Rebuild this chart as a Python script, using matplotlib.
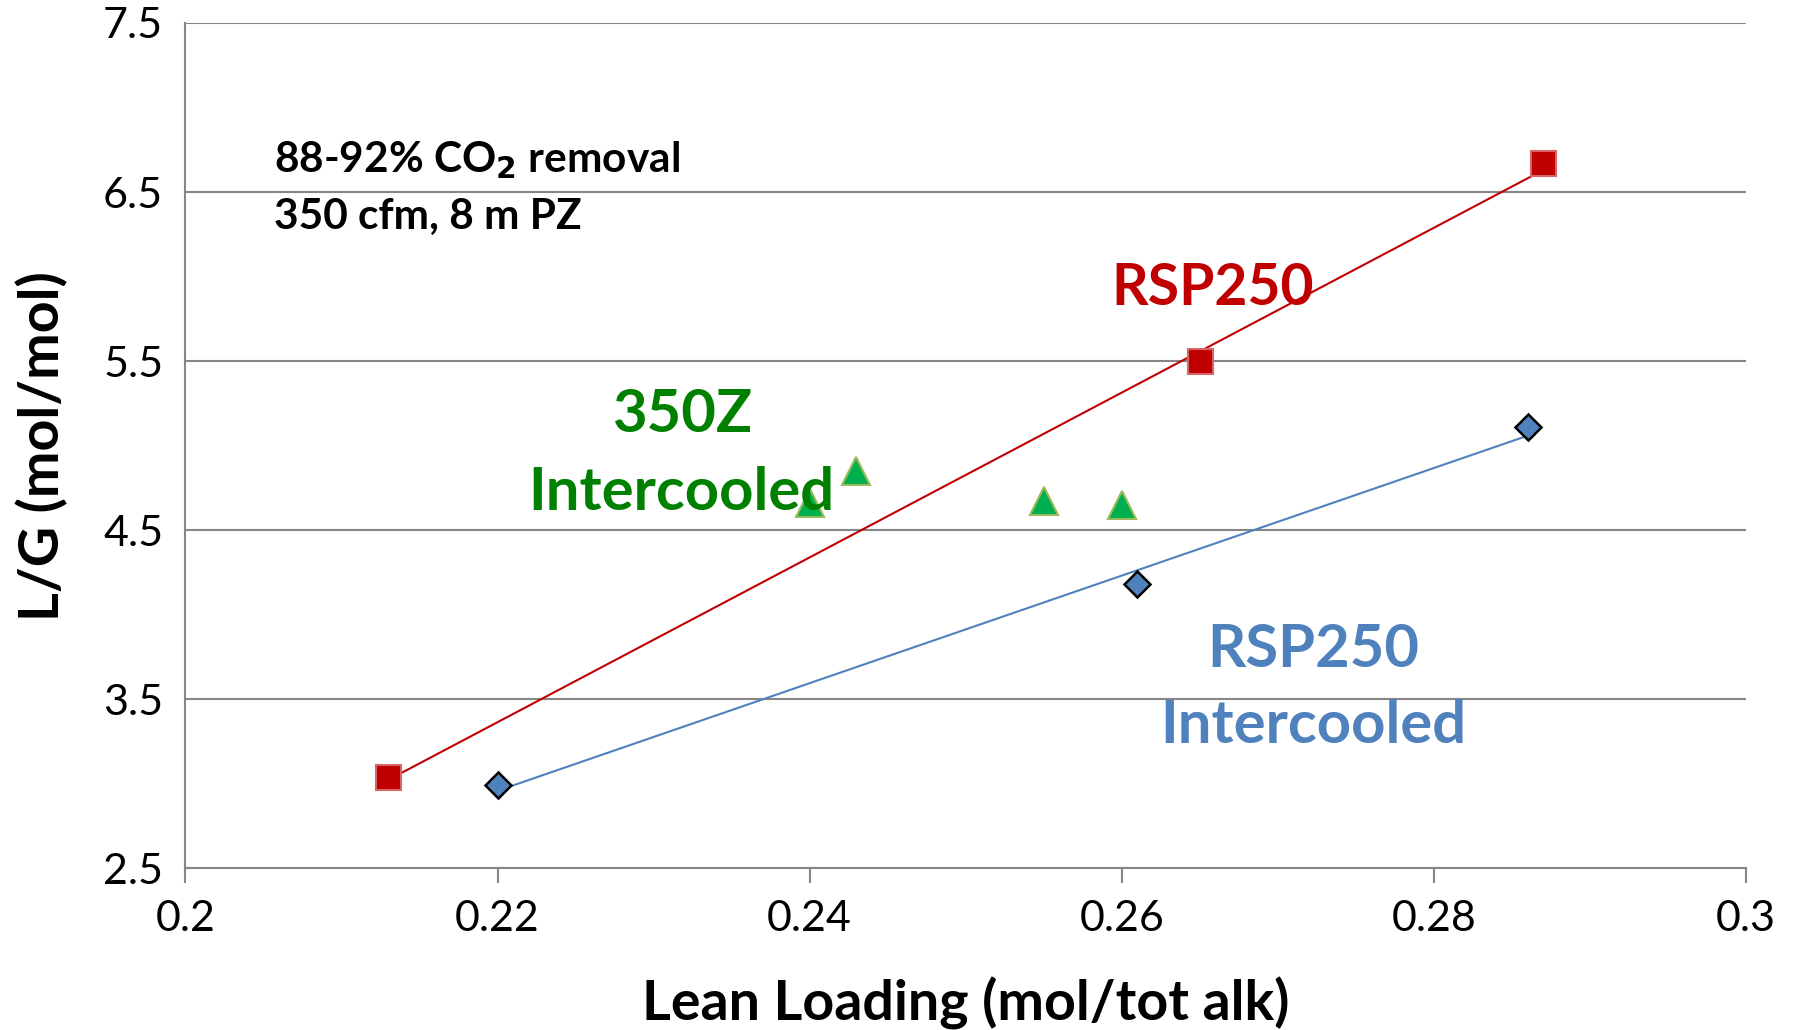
import numpy as np
import matplotlib.pyplot as plt

plt.rcParams['font.family'] = ['Lato', 'DejaVu Sans']

# データ
rsp_x = [0.213, 0.265, 0.287]
rsp_y = [3.04, 5.50, 6.67]

rsp_ic_x = [0.220, 0.261, 0.286]
rsp_ic_y = [2.99, 4.18, 5.11]

z350_x = [0.240, 0.243, 0.255, 0.260]
z350_y = [4.66, 4.85, 4.67, 4.65]

x_ticks = [0.2, 0.22, 0.24, 0.26, 0.28, 0.3]
x_tick_labels = ['0.2', '0.22', '0.24', '0.26', '0.28', '0.3']
y_ticks = [2.5, 3.5, 4.5, 5.5, 6.5, 7.5]
y_tick_labels = ['2.5', '3.5', '4.5', '5.5', '6.5', '7.5']

RED = '#C00000'
BLUE = '#4F81BD'
GREEN = '#00B050'
GRID = '#868686'

fig = plt.figure(figsize=(17.95, 10.30), dpi=100)
fig.set_facecolor('white')
ax = fig.add_axes([0.1033, 0.157, 0.8694, 0.8207])

# 線形トレンドライン
for xs, ys, c in [(rsp_x, rsp_y, RED), (rsp_ic_x, rsp_ic_y, BLUE)]:
    k, b = np.polyfit(xs, ys, 1)
    xx = np.array([min(xs), max(xs)])
    ax.plot(xx, k * xx + b, color=c, lw=1.5, zorder=3)

ax.plot(rsp_x, rsp_y, ls='none', marker='s', ms=18, mfc=RED,
        mec='#D86666', mew=1.5, zorder=4)
ax.plot(rsp_ic_x, rsp_ic_y, ls='none', marker='D', ms=13.5, mfc=BLUE,
        mec='black', mew=1.8, zorder=4)
ax.plot(z350_x, z350_y, ls='none', marker='^', ms=20, mfc=GREEN,
        mec='#9BBB59', mew=1.5, zorder=4)

ax.set_xlim(0.2, 0.3)
ax.set_ylim(2.5, 7.5)
ax.set_xticks(x_ticks)
ax.set_xticklabels(x_tick_labels)
ax.set_yticks(y_ticks)
ax.set_yticklabels(y_tick_labels)
ax.tick_params(axis='x', length=11, width=1.5, color=GRID, labelsize=31, pad=12)
ax.tick_params(axis='y', length=0, labelsize=31, pad=16)

ax.grid(axis='y', color=GRID, lw=1.5)
ax.set_axisbelow(True)
for s in ['top', 'right']:
    ax.spines[s].set_visible(False)
for s in ['left', 'bottom']:
    ax.spines[s].set_color(GRID)
    ax.spines[s].set_linewidth(1.5)

ax.set_xlabel('Lean Loading (mol/tot alk)', fontsize=40, fontweight='bold', labelpad=28)
ax.set_ylabel('L/G (mol/mol)', fontsize=40, fontweight='bold', labelpad=25)

# 注釈
ax.text(0.2057, 6.69, '88-92% CO$_\\mathbf{2}$ removal', fontsize=30.5, fontweight='bold',
        ha='left', va='center', zorder=5)
ax.text(0.2057, 6.35, '350 cfm, 8 m PZ', fontsize=30.5, fontweight='bold',
        ha='left', va='center', zorder=5)
ax.text(0.2658, 5.93, 'RSP250', fontsize=41, fontweight='bold', color=RED,
        ha='center', va='center', zorder=5)
ax.text(0.2318, 5.18, '350Z', fontsize=43, fontweight='bold', color='#008000',
        ha='center', va='center', zorder=5)
ax.text(0.2318, 4.72, 'Intercooled', fontsize=43, fontweight='bold', color='#008000',
        ha='center', va='center', zorder=5)
ax.text(0.2723, 3.79, 'RSP250', fontsize=43, fontweight='bold', color=BLUE,
        ha='center', va='center', zorder=5)
ax.text(0.2723, 3.34, 'Intercooled', fontsize=43, fontweight='bold', color=BLUE,
        ha='center', va='center', zorder=5)

fig.savefig('out.png', dpi=100, facecolor='white')
